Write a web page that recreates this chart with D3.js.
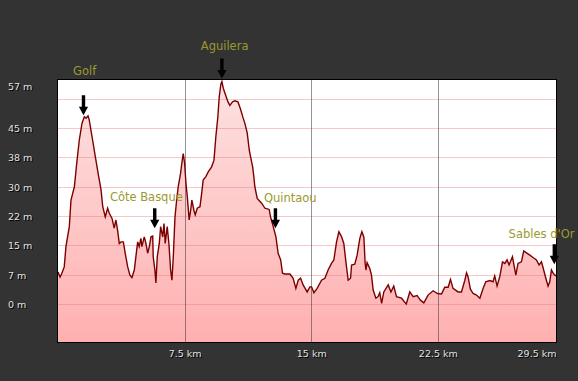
<!DOCTYPE html>
<html>
<head>
<meta charset="utf-8">
<script src="https://cdn.jsdelivr.net/npm/d3@7"></script>
<style>
  html, body { margin: 0; padding: 0; background: #333333; }
  svg { display: block; }
</style>
</head>
<body>
<svg id="chart" width="578" height="381"></svg>
<script>
// ---- data ----
const distanceKm = [
  0, 0.12, 0.21, 0.37, 0.47, 0.67, 0.77, 0.87, 0.97, 1.11, 1.26, 1.42, 1.56, 1.66, 1.78, 1.85,
  2.05, 2.21, 2.41, 2.55, 2.65, 2.80, 2.94, 3.04, 3.20, 3.33, 3.43, 3.53, 3.63, 3.73, 3.87, 3.98,
  4.13, 4.26, 4.38, 4.52, 4.66, 4.72, 4.81, 4.91, 4.97, 5.11, 5.21, 5.31, 5.41, 5.51, 5.61, 5.64,
  5.74, 5.80, 5.88, 6.00, 6.08, 6.20, 6.28, 6.35, 6.47, 6.57, 6.67, 6.75, 6.83, 6.93, 7.03, 7.12,
  7.26, 7.36, 7.42, 7.50, 7.58, 7.66, 7.77, 7.86, 7.93, 8.05, 8.13, 8.25, 8.41, 8.51, 8.60, 8.76,
  8.90, 9.10, 9.24, 9.35, 9.47, 9.55, 9.65, 9.71, 9.79, 9.89, 10.07, 10.18, 10.34, 10.48, 10.66, 10.81,
  10.95, 11.07, 11.21, 11.33, 11.37, 11.53, 11.60, 11.66, 11.80, 12.06, 12.26, 12.51, 12.59, 12.75, 12.91, 13.04,
  13.19, 13.30, 13.44, 13.74, 13.93, 14.09, 14.23, 14.37, 14.52, 14.76, 14.92, 15.02, 15.16, 15.35, 15.61, 15.81,
  16.00, 16.20, 16.34, 16.50, 16.64, 16.80, 16.93, 17.09, 17.19, 17.33, 17.39, 17.58, 17.72, 17.88, 18.00, 18.12,
  18.19, 18.24, 18.31, 18.47, 18.57, 18.67, 18.83, 18.96, 19.06, 19.17, 19.30, 19.56, 19.72, 19.89, 20.05, 20.35,
  20.63, 20.84, 21.04, 21.27, 21.47, 21.67, 21.92, 22.22, 22.48, 22.72, 22.91, 23.11, 23.25, 23.40, 23.70, 23.90,
  24.10, 24.20, 24.29, 24.43, 24.59, 24.79, 24.99, 25.18, 25.34, 25.58, 25.77, 25.87, 26.01, 26.17, 26.33, 26.47,
  26.60, 26.72, 26.92, 27.12, 27.25, 27.45, 27.59, 27.75, 27.95, 28.14, 28.34, 28.50, 28.64, 28.77, 28.93, 29.03,
  29.13, 29.23, 29.33, 29.43, 29.5
];
const elevationM = [
  8.2, 6.9, 7.7, 9.5, 14.7, 19.8, 26.6, 28.3, 30.0, 36.0, 41.9, 46.2, 47.9, 47.5, 48.1, 47.1,
  41.9, 37.7, 32.6, 29.2, 24.9, 22.3, 24.5, 23.2, 21.9, 19.4, 21.5, 18.9, 15.5, 15.9, 15.9, 13.0,
  9.5, 7.4, 6.8, 8.7, 13.8, 15.9, 14.7, 16.8, 14.7, 17.2, 15.5, 13.0, 14.7, 17.2, 17.4, 12.1,
  8.7, 5.4, 12.1, 15.5, 19.8, 17.2, 20.6, 15.5, 19.8, 15.5, 8.7, 6.1, 12.1, 22.3, 26.6, 30.0,
  33.4, 36.8, 38.5, 36.0, 30.9, 27.4, 21.5, 24.0, 26.6, 24.0, 22.8, 24.5, 24.9, 28.3, 31.7, 32.6,
  33.8, 35.1, 36.8, 42.8, 47.9, 53.0, 56.3, 56.9, 55.2, 53.9, 51.7, 50.8, 51.7, 52.0, 51.7, 49.9,
  47.8, 46.2, 43.7, 39.4, 38.5, 35.1, 32.6, 30.0, 27.0, 25.8, 24.5, 24.2, 22.3, 19.8, 17.2, 13.0,
  11.3, 7.9, 7.7, 7.7, 6.6, 4.0, 6.1, 6.6, 4.9, 3.1, 4.4, 4.4, 2.9, 4.0, 6.1, 6.6,
  8.7, 10.4, 11.3, 15.9, 18.5, 17.2, 15.5, 9.5, 6.1, 6.6, 10.0, 10.2, 12.5, 16.8, 18.5, 17.1,
  10.7, 8.7, 10.6, 9.1, 7.4, 3.6, 1.5, 1.9, 2.9, 0.2, 3.1, 4.9, 3.1, 4.6, 1.9, 1.5,
  0.0, 3.1, 1.9, 2.2, 1.0, 0.3, 2.3, 3.4, 2.7, 2.6, 4.3, 4.3, 6.3, 4.0, 3.1, 3.1,
  6.1, 8.0, 7.0, 3.8, 2.7, 2.3, 1.5, 4.0, 5.7, 6.0, 5.7, 7.2, 4.6, 7.0, 10.8, 10.4,
  11.3, 10.0, 12.1, 7.4, 10.4, 10.8, 13.6, 13.1, 12.5, 11.9, 11.3, 10.0, 10.8, 8.7, 6.1, 4.6,
  5.7, 8.7, 7.9, 7.4, 7.2
];
const gridValues = [0, 7.5, 15, 22.5, 30, 37.5, 45, 52.5];
const yTickValues = [0, 7.5, 15, 22.5, 30, 37.5, 45, 55.6];
const yTickLabels = ["0 m", "7 m", "15 m", "22 m", "30 m", "38 m", "45 m", "57 m"];
const xTickValues = [7.5, 15, 22.5, 29.5];
const xTickLabels = ["7.5 km", "15 km", "22.5 km", "29.5 km"];
const poiNames = ["Golf", "Côte Basque", "Aguilera", "Quintaou", "Sables d'Or"];
const poiKm = [1.51, 5.73, 9.71, 12.88, 29.4];
const poiElev = [48.3, 19.4, 57.7, 19.4, 10.2];

// ---- layout ----
const plot = { left: 58, right: 556, top: 80, bottom: 342 };
const labelOffsets = [ // dx (centre of text from arrow), dy (baseline from arrow tip)
  { dx: 1.2, dy: -40.5 },
  { dx: -8.4, dy: -27 },
  { dx: 2.7, dy: -28.5 },
  { dx: 14.8, dy: -26.3 },
  { dx: -12.8, dy: -26 }
];

const svg = d3.select("#chart");
const x = d3.scaleLinear().domain([0, 29.5]).range([plot.left, plot.right]);
const y = d3.scaleLinear().domain([-9.7, 57.3]).range([plot.bottom, plot.top]);

const points = distanceKm.map((d, i) => ({ km: d, m: elevationM[i] }));

const defs = svg.append("defs");
const grad = defs.append("linearGradient")
  .attr("id", "fillGrad").attr("gradientUnits", "userSpaceOnUse")
  .attr("x1", 0).attr("x2", 0).attr("y1", plot.top).attr("y2", plot.bottom);
grad.append("stop").attr("offset", "0%").attr("stop-color", "#fde2e2");
grad.append("stop").attr("offset", "100%").attr("stop-color", "#ffb0b0");
defs.append("clipPath").attr("id", "clip").append("rect")
  .attr("x", plot.left).attr("y", plot.top)
  .attr("width", plot.right - plot.left).attr("height", plot.bottom - plot.top);

// plot background
svg.append("rect")
  .attr("x", plot.left).attr("y", plot.top)
  .attr("width", plot.right - plot.left).attr("height", plot.bottom - plot.top)
  .attr("fill", "#ffffff");

const area = d3.area().x(d => x(d.km)).y0(plot.bottom).y1(d => y(d.m));
const line = d3.line().x(d => x(d.km)).y(d => y(d.m));

const g = svg.append("g").attr("clip-path", "url(#clip)");
g.append("path").datum(points).attr("d", area).attr("fill", "url(#fillGrad)");

// grid
g.selectAll("line.hgrid").data(gridValues).join("line")
  .attr("class", "hgrid")
  .attr("x1", plot.left).attr("x2", plot.right)
  .attr("y1", d => Math.round(y(d)) + 0.5).attr("y2", d => Math.round(y(d)) + 0.5)
  .attr("stroke", "rgba(232,110,110,0.38)").attr("stroke-width", 1);
g.selectAll("line.vgrid").data(xTickValues.slice(0, 3)).join("line")
  .attr("class", "vgrid")
  .attr("y1", plot.top).attr("y2", plot.bottom)
  .attr("x1", d => Math.round(x(d)) + 0.5).attr("x2", d => Math.round(x(d)) + 0.5)
  .attr("stroke", "rgba(60,60,60,0.55)").attr("stroke-width", 1);

g.append("path").datum(points).attr("d", line)
  .attr("fill", "none").attr("stroke", "#7d0000").attr("stroke-width", 1.4)
  .attr("stroke-linejoin", "miter");

// border
svg.append("rect")
  .attr("x", plot.left - 0.5).attr("y", plot.top - 0.5)
  .attr("width", plot.right - plot.left + 1).attr("height", plot.bottom - plot.top + 1)
  .attr("fill", "none").attr("stroke", "#000").attr("stroke-width", 1);

// axes
const font = "'DejaVu Sans', Verdana, sans-serif";
function styleAxis(sel) {
  sel.select(".domain").remove();
  sel.selectAll(".tick line").remove();
  sel.selectAll(".tick text")
    .attr("font-family", font).attr("font-size", "9.5px")
    .attr("fill", "#e2e2e2")
    .style("text-shadow", "1px 1px 0 #000");
}
const yAxis = d3.axisLeft(y).tickValues(yTickValues)
  .tickFormat((d, i) => yTickLabels[i]).tickSize(0);
svg.append("g").attr("transform", "translate(0,0)").call(yAxis).call(styleAxis)
  .call(s => s.selectAll(".tick text").attr("x", 8).attr("text-anchor", "start").attr("dy", "0.35em"));

const xAxis = d3.axisBottom(x).tickValues(xTickValues)
  .tickFormat((d, i) => xTickLabels[i]).tickSize(0);
svg.append("g").attr("transform", `translate(0,${plot.bottom})`).call(xAxis).call(styleAxis)
  .call(s => s.selectAll(".tick text").attr("y", 15).attr("dy", 0)
    .attr("text-anchor", (d, i) => i === xTickValues.length - 1 ? "end" : "middle"));

// points of interest
const poi = svg.append("g").selectAll("g").data(poiNames).join("g")
  .attr("transform", (d, i) => `translate(${x(poiKm[i])},${y(poiElev[i])})`);
poi.append("path")
  .attr("d", "M-1.7,-20 L1.7,-20 L1.7,-8.5 L4.6,-8.5 L0,0 L-4.6,-8.5 L-1.7,-8.5 Z")
  .attr("fill", "#000");
poi.append("text")
  .attr("x", (d, i) => labelOffsets[i].dx).attr("y", (d, i) => labelOffsets[i].dy)
  .attr("text-anchor", "middle")
  .attr("font-family", font).attr("font-size", "11.5px")
  .attr("fill", "#9a9a30")
  .text(d => d);
</script>
</body>
</html>
